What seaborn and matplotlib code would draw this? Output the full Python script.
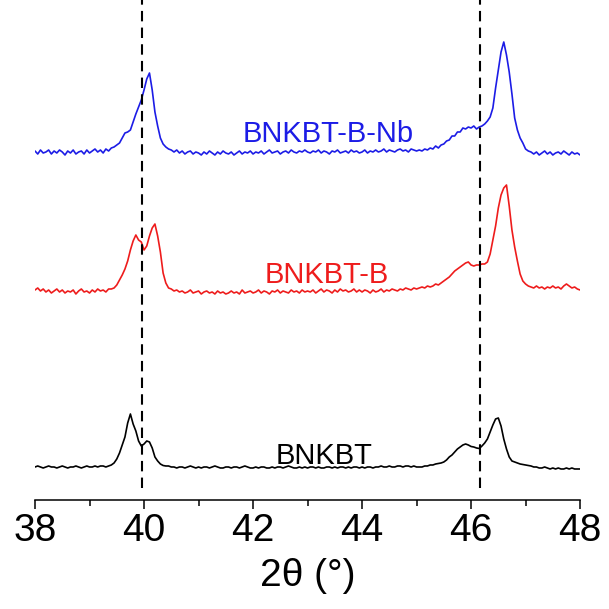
import numpy as np
import pandas as pd
import matplotlib.pyplot as plt
import seaborn as sns

# 2-theta grid of the scans, 38-48 deg in 0.05 deg steps
two_theta = np.round(np.linspace(38, 48, 201), 2)

# intensities above each pattern's own baseline (a.u.)
bnkbt = [
    0, 1, 0, -1, 0, 1, 0, 0, -1, 0, 1, 0, -1, 0, 0, 1, 0, -1, 0, 1,
    0, 0, 1, 0, 1, 1, 0, 1,
    2, 4, 8, 14, 22, 30, 44, 53, 43, 36, 26, 21, 23, 26, 25, 19, 10, 6, 3, 1.5, 1,
    1, 0, 0, -1, 0, 0, -1, 0, 1, 0, -1,
    0, -1, 0, 0, -1, 0, 1, 0, -1, -1, 0, 0, -1, 0, 0, -1, 0, 1, 0, -1,
    -1, 0, -1, 0, 0, -1, -1, 0, -1, 0, 0, -1, 0, 1, 0, -1, -1, 0, -1, 0,
    -1, 0, 0, -1, 0, -1, -1, 0, 0, -1, 0, -1, 0, 0, -1, 0, -1, 0, 0, -1,
    0, -1, 0, 0, -1, 0, 0, 1, 0, 0, 1, 0, 0, 1, 1, 0, 1, 1, 0, 1,
    0,
    0, 0, 1, 1, 2, 2, 3, 3.5, 4, 5, 7, 10, 12, 15, 18, 20, 22, 23, 22,
    20.5, 20, 19, 18.5, 21, 24, 28, 35, 42, 48, 49, 41, 28, 18, 10, 6, 5, 4, 3, 2.5,
    2, 1.5, 1, 0, 0, -1, -1, 0, -1, -2, -1, -2, -1, -2, -2, -1, -2, -1, -2, -2, -2,
]

bnkbt_b = [
    2, 4, 1, 3, 0, 2, -1, 1, 3, 0, 2, -1, 1, 0, 2, -2, 1, 3, 0, 1,
    -1, 2, 0, 3, 1, 2, 0, 3,
    3, 4, 7, 12, 17, 23, 31, 42, 51, 57, 52, 50, 42, 46, 56, 64, 68, 56, 40, 19, 9,
    4, 3, 1, 2, 0, 1, -1, 0, 2, -1, 0,
    1, -2, 0, 1, -1, 0, -2, 1, -1, 0, -2, -1, 1, -1, 0, -2, 2, -1, 0, 1,
    -1, 0, 2, -1, 1, 0, -2, 1, 0, 2, -1, 1, 0, -1, 2, 0, 1, -1, 2, 0,
    1, 0, 2, -1, 1, 3, 0, 2, 1, -1, 2, 0, 3, 1, 2, 0, 1, 3, 0, 2,
    0, 2, 1, -1, 2, 0, 1, 3, 0, 2, 1, 3, 2, 1, 3, 2, 4, 3, 2, 4,
    3,
    4, 5, 4, 6, 5, 6, 8, 7, 9, 11, 13, 15, 18, 21, 23, 25, 27, 29, 30,
    27, 26, 27, 27, 28, 28, 30, 38, 52, 66, 84, 97, 104, 107, 86, 62, 45, 31, 18, 11,
    8, 6, 5, 4, 6, 4, 5, 3, 5, 4, 6, 4, 5, 3, 6, 8, 6, 4, 5, 3, 2,
]

bnkbt_b_nb = [
    1, -2, 2, -1, 0, 2, -2, 1, -1, 2, 0, -3, 1, -1, 2, -2, 0, 1, -2, 2,
    -1, 1, 3, 0, 2, -1, 3, 1,
    4, 5, 7, 9, 14, 19, 20, 22, 30, 38, 45, 52, 62, 73, 79, 62, 40, 26, 14, 8, 5,
    3, 2, 0, 2, -1, 1, -2, 0, 1, -2, 0,
    -1, -3, 0, -2, 1, -1, -3, 0, -2, 1, -1, -2, 0, -3, -1, 1, -2, 0, -1, 1,
    -2, 0, -1, 1, -2, 0, 2, -1, 0, 1, -2, 0, 1, -1, 2, 0, -1, 1, 0, 2,
    0, -1, 1, 0, 2, -1, 1, 0, -2, 1, 0, 2, -1, 0, 1, -1, 2, 0, 1, -1,
    0, 2, -1, 1, 0, 2, 0, 1, 3, 0, 2, 1, 0, 2, 3, 1, 2, 0, 3, 2,
    1,
    2, 1, 3, 2, 4, 3, 6, 4, 7, 8, 11, 12, 16, 16, 20, 20, 24, 23, 25,
    24, 26, 23, 25, 26, 28, 31, 35, 44, 64, 82, 100, 110, 97, 80, 58, 34, 22, 14, 9,
    3, 1, 0, -2, 0, -3, -1, 1, -2, 0, -3, -1, 0, -2, 1, -1, -3, 0, -2, -1, -3,
]

samples = ['BNKBT', 'BNKBT-B', 'BNKBT-B-Nb']
patterns = [bnkbt, bnkbt_b, bnkbt_b_nb]
offsets = [33, 208, 348]
colors = ['black', '#ee1c1c', '#1c1ce6']
ref_lines = [39.96, 46.16]

# long table for seaborn, each pattern shifted up by its offset
frames = []
for name, vals, off in zip(samples, patterns, offsets):
    frames.append(pd.DataFrame({'two_theta': two_theta,
                                'intensity': np.array(vals) + off,
                                'sample': name}))
df = pd.concat(frames, ignore_index=True)

sns.set_style('ticks')
plt.rcParams['font.family'] = ['Liberation Sans', 'DejaVu Sans']
plt.rcParams['text.color'] = 'black'
plt.rcParams['axes.labelcolor'] = 'black'
plt.rcParams['xtick.color'] = 'black'
plt.rcParams['axes.edgecolor'] = 'black'

fig = plt.figure(figsize=(6.09, 6.09), dpi=100)
ax = fig.add_axes([0.0575, 0.179, 0.895, 0.821])

sns.lineplot(data=df, x='two_theta', y='intensity', hue='sample',
             palette=dict(zip(samples, colors)), linewidth=1.2,
             legend=False, ax=ax)

ax.vlines(ref_lines, 12, 500, colors='black', linestyles=(0, (5, 3)), linewidth=1.5)

# sample labels
label_pos = [(43.30, 36), (43.35, 217), (43.38, 358)]
for name, c, (lx, ly) in zip(samples, colors, label_pos):
    ax.text(lx, ly, name, color=c, fontsize=21, ha='center', va='baseline')

ax.set_xlim(38, 48)
ax.set_ylim(0, 500)
ax.set_xticks([38, 40, 42, 44, 46, 48])
ax.set_xticks([39, 41, 43, 45, 47], minor=True)
ax.set_yticks([])
ax.tick_params(axis='x', which='major', length=6.7, width=1.1, labelsize=28, pad=3)
ax.tick_params(axis='x', which='minor', length=4.3, width=1.1)
ax.set_xlabel('2θ (°)', fontsize=28, labelpad=6)
ax.set_ylabel('')
for side in ['left', 'top', 'right']:
    ax.spines[side].set_visible(False)
ax.spines['bottom'].set_linewidth(1.1)

plt.savefig('out.png', dpi=100)
